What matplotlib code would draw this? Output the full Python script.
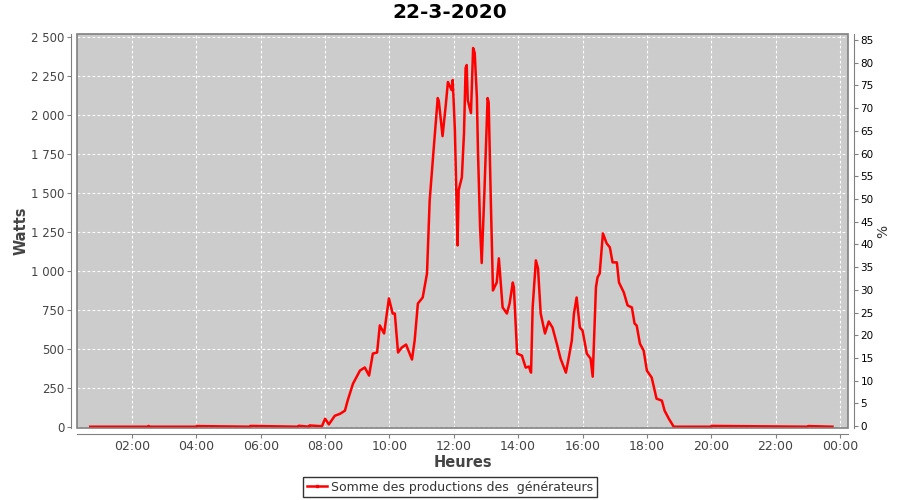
import numpy as np
import pandas as pd
import matplotlib
matplotlib.use("Agg")
import matplotlib.pyplot as plt
import matplotlib.dates as mdates
from matplotlib.ticker import FuncFormatter, MultipleLocator
from matplotlib.patches import Rectangle
from matplotlib.lines import Line2D

# production du 22-3-2020 (heure, watts)
heures = ["00:42", "02:30", "02:31", "02:33", "04:00", "04:01", "05:40", "05:41",
          "07:10", "07:11", "07:30", "07:31", "07:54",
          "08:00", "08:07", "08:18", "08:28", "08:37", "08:42", "08:52", "09:05",
          "09:14", "09:22", "09:29", "09:37", "09:42", "09:50", "09:59", "10:06",
          "10:10", "10:16", "10:23", "10:31", "10:42", "10:47", "10:53", "11:02",
          "11:10", "11:15", "11:19", "11:23", "11:30", "11:32", "11:39", "11:45",
          "11:49", "11:56", "11:58", "12:02", "12:04", "12:07", "12:09", "12:15",
          "12:19", "12:22", "12:24", "12:26", "12:32", "12:36", "12:39", "12:43",
          "12:45", "12:49", "12:52", "12:57", "13:03", "13:05", "13:09", "13:13",
          "13:20", "13:24", "13:28", "13:31", "13:39", "13:44", "13:50", "13:52",
          "13:58", "14:07", "14:14", "14:20", "14:24", "14:27", "14:33", "14:37",
          "14:42", "14:50", "14:57", "15:04", "15:12", "15:19", "15:29", "15:34",
          "15:40", "15:44", "15:49", "15:55", "16:00", "16:08", "16:15", "16:19",
          "16:25", "16:28", "16:32", "16:38", "16:45", "16:51", "16:56", "17:04",
          "17:08", "17:17", "17:24", "17:32", "17:37", "17:41", "17:47", "17:54",
          "18:00", "18:09", "18:18", "18:28", "18:33", "18:41", "18:50",
          "20:00", "20:01", "23:00", "23:01", "23:46"]
watts = [0, 0, 5, 0, 0, 4, 0, 5,
         0, 6, 0, 8, 3,
         51, 15, 70, 83, 103, 167, 276, 360,
         380, 328, 469, 476, 650, 598, 823, 726,
         726, 476, 508, 527, 431, 553, 790, 829,
         983, 1452, 1632, 1806, 2108, 2090, 1864, 2063,
         2211, 2159, 2224, 1902, 1600, 1163, 1517, 1600,
         1883, 2301, 2320, 2095, 2012, 2429, 2397, 2114,
         1774, 1279, 1050, 1500, 2108, 2080, 1452, 874,
         925, 1080, 900, 765, 726, 790, 925, 893,
         469, 456, 379, 386, 347, 765, 1067, 1015,
         726, 598, 675, 636, 533, 437, 347, 437,
         553, 726, 829, 636, 617, 469, 437, 321,
         893, 958, 983, 1240, 1176, 1150, 1054, 1054,
         925, 861, 778, 765, 662, 649, 533, 488,
         360, 315, 180, 167, 103, 51, 0,
         0, 5, 0, 4, 0]

jour = pd.Timestamp("2020-03-22")
temps = [jour + pd.Timedelta(hours=int(h[:2]), minutes=int(h[3:])) for h in heures]

fig = plt.figure(figsize=(9, 5), dpi=100)
ax = fig.add_axes([77/900, 1-428/500, (848-77)/900, (428-34)/500])
ax.set_facecolor("#cccccc")
ax.plot(temps, watts, color="red", lw=1.8)

ax.set_xlim(jour + pd.Timedelta(hours=0.29), jour + pd.Timedelta(hours=24.25))
ax.set_ylim(-8.3, 2519)
ax.yaxis.set_major_locator(MultipleLocator(250))
ax.yaxis.set_major_formatter(FuncFormatter(lambda v, p: f"{v:,.0f}".replace(",", " ")))
ax.xaxis.set_major_locator(mdates.HourLocator(byhour=range(0, 24, 2)))
ax.xaxis.set_major_formatter(mdates.DateFormatter("%H:%M"))
ax.grid(True, color="white", ls=(0, (2.5, 2)), lw=0.8)

# axe de droite en %
ax2 = ax.twinx()
ax2.set_ylim(-0.4, 86.3)
ax2.yaxis.set_major_locator(MultipleLocator(5))
ax2.set_ylabel("%", fontsize=10, color="#333333", labelpad=2)

for a in (ax, ax2):
    for s in a.spines.values():
        s.set_visible(False)
ax.spines["left"].set_visible(True)
ax.spines["bottom"].set_visible(True)
ax2.spines["right"].set_visible(True)
ax.spines["left"].set_position(("outward", 4))
ax.spines["bottom"].set_position(("outward", 4))
ax2.spines["right"].set_position(("outward", 4))
for s in (ax.spines["left"], ax.spines["bottom"], ax2.spines["right"]):
    s.set_color("#808080")

ax.add_patch(Rectangle((0, 0), 1, 1, transform=ax.transAxes, fill=False,
                       edgecolor="#808080", lw=1.2, clip_on=False, zorder=5))

ax.tick_params(axis="y", labelsize=8.5, colors="#444444", length=3, color="#808080", pad=2)
ax.tick_params(axis="x", labelsize=9, colors="#444444", length=3, color="#808080", pad=2)
ax2.tick_params(axis="y", labelsize=7.5, colors="black", length=3, color="#808080", pad=2)

fig.text(0.5, 1 - 13/500, "22-3-2020", fontsize=14.5, fontweight="bold",
         ha="center", va="center")
ax.set_ylabel("Watts", fontsize=10.5, fontweight="bold", color="#444444", labelpad=2)
ax.set_xlabel("Heures", fontsize=10.5, fontweight="bold", color="#444444", labelpad=1)

h = Line2D([], [], color="red", lw=1.8, marker="s", ms=2)
leg = fig.legend([h], ["Somme des productions des  générateurs"], loc="center",
                 bbox_to_anchor=(0.5, 0.026), fontsize=9, frameon=True, fancybox=False,
                 handlelength=1.6, handletextpad=0.3, borderpad=0.3, borderaxespad=0)
leg.get_frame().set_edgecolor("black")
leg.get_frame().set_linewidth(1.0)
for t in leg.get_texts():
    t.set_color("#333333")

fig.savefig("out.png", dpi=100)
